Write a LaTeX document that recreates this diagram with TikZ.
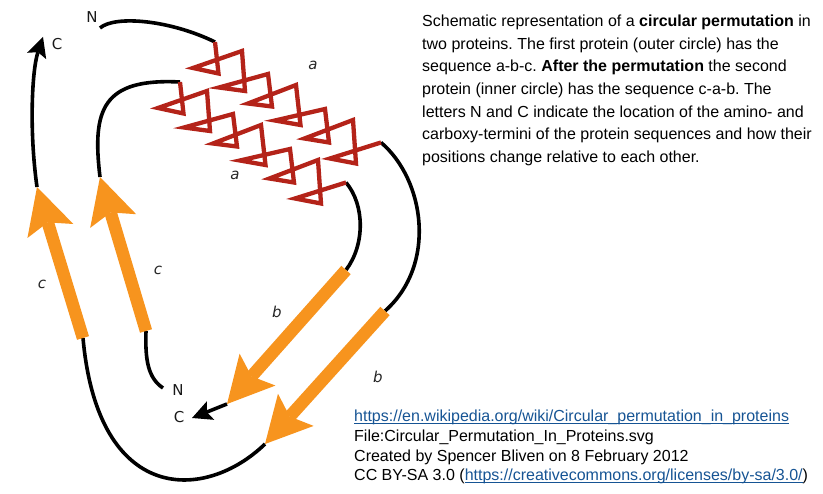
\documentclass[tikz,border=0pt]{standalone}
\usepackage{fontspec}
\setmainfont{Liberation Sans}
\newfontfamily\labelfont{DejaVu Sans}
\usetikzlibrary{arrows.meta}
\definecolor{helixred}{RGB}{180,35,25}
\definecolor{strandorange}{RGB}{247,148,30}
\definecolor{linkblue}{RGB}{22,84,148}
\newcommand\ulink[1]{{\color{linkblue}\setbox0\hbox{#1}\rlap{\rule[-2.3pt]{\wd0}{0.9pt}}\box0}}
\frenchspacing
\begin{document}
\begin{tikzpicture}[x=1pt,y=-1pt,
  backbone/.style={draw=black, line width=3.6pt},
  helixline/.style={draw=helixred, line width=4.3pt, line join=miter},
  strand/.style={draw=strandorange, line width=12.5pt,
    -{Stealth[length=46pt,width=48pt,inset=9pt,line width=0pt]}},
  endtip/.style={-{Stealth[length=20pt,width=20pt,inset=4pt,line width=0pt]}},
  seglabel/.style={anchor=base, inner sep=0pt, text=black!85,
    font={\fontsize{15}{18}\labelfont\itshape}},
  termlabel/.style={anchor=base, inner sep=0pt, text=black!90,
    font={\fontsize{15}{18}\labelfont}},
  paraline/.style={anchor=base west, inner sep=0pt,
    font={\fontsize{16}{19}\selectfont\frenchspacing}},
  credline/.style={anchor=base west, inner sep=0pt,
    font={\fontsize{16}{19}\selectfont\frenchspacing}}]
\useasboundingbox (0,0) rectangle (823,494);

% key points
\coordinate (oN) at (100,28);
\coordinate (oH1) at (215,42);
\coordinate (oH2) at (381,142.5);
\coordinate (ob1) at (385,311);
\coordinate (ob2) at (265,444);
\coordinate (oc1) at (83,338);
\coordinate (oc2) at (37,187);
\coordinate (oC) at (43,37);
\coordinate (iN) at (163,388);
\coordinate (ic1) at (146,331);
\coordinate (ic2) at (100,177);
\coordinate (iH1) at (180,82);
\coordinate (iH2) at (346,182.5);
\coordinate (ib1) at (346,270);
\coordinate (ib2) at (227,404);
\coordinate (iC) at (192,418);

% black backbone
\draw[backbone] (oN) .. controls (115,15) and (170,20) .. (oH1);
\draw[backbone] (oH2) .. controls (425,180) and (437,265) .. (ob1);
\draw[backbone] (ob2) .. controls (205,502) and (98,505) .. (oc1);
\draw[backbone, endtip] (oc2) .. controls (29,130) and (32,70) .. (oC);
\draw[backbone] (iN) .. controls (148,378) and (145,360) .. (ic1);
\draw[backbone] (ic2) .. controls (92,110) and (102,78) .. (iH1);
\draw[backbone] (iH2) .. controls (365,205) and (365,245) .. (ib1);
\draw[backbone, endtip] (ib2) -- (iC);

% helices a
\draw[helixline] (oH1) -- (218.5,73.5) -- (193,68) -- (242,51) -- (245,91) -- (219,87.5)
  -- (268,74) -- (272,106.5) -- (248,103.5) -- (296,85) -- (300.5,125) -- (275,120.5)
  -- (325,109) -- (329,142.5) -- (304.5,138.5) -- (353,120) -- (356,163.5) -- (330,158.5)
  -- (oH2);
\draw[helixline] (iH1) -- (183.5,113.5) -- (158,108) -- (207,91) -- (210,131) -- (184,127.5)
  -- (233,114) -- (237,146.5) -- (213,143.5) -- (261,125) -- (265.5,165) -- (240,160.5)
  -- (290,149) -- (294,182.5) -- (269.5,178.5) -- (318,160) -- (321,203.5) -- (295,198.5)
  -- (iH2);

% strands b and c
\draw[strand] (oc1) -- (oc2);
\draw[strand] (ic1) -- (ic2);
\draw[strand] (ib1) -- (ib2);
\draw[strand] (ob1) -- (ob2);

% labels
\node[seglabel] (la1) at (313,70) {a};
\node[seglabel] (la2) at (235,180) {a};
\node[seglabel] (lb1) at (277,318) {b};
\node[seglabel] (lb2) at (378,383) {b};
\node[seglabel] (lc1) at (42,289) {c};
\node[seglabel] (lc2) at (158,275) {c};
\node[termlabel] (lN1) at (92,23) {N};
\node[termlabel] (lC1) at (57,50) {C};
\node[termlabel] (lN2) at (178,396) {N};
\node[termlabel] (lC2) at (179,423) {C};

% caption
\node[paraline] (p1) at (422,26.5) {Schematic representation of a \textbf{circular permutation} in};
\node[paraline] (p2) at (422,49.2) {two proteins. The first protein (outer circle) has the};
\node[paraline] (p3) at (422,71.9) {sequence a-b-c. \textbf{After the permutation} the second};
\node[paraline] (p4) at (422,94.6) {protein (inner circle) has the sequence c-a-b. The};
\node[paraline] (p5) at (422,117.3) {letters N and C indicate the location of the amino- and};
\node[paraline] (p6) at (422,140) {carboxy-termini of the protein sequences and how their};
\node[paraline] (p7) at (422,162.7) {positions change relative to each other.};

% credits
\node[credline] (c1) at (354,421.7) {\ulink{https://en.wikipedia.org/wiki/Circular\_permutation\_in\_proteins}};
\node[credline] (c2) at (354,441.5) {File:Circular\_Permutation\_In\_Proteins.svg};
\node[credline] (c3) at (354,461.3) {Created by Spencer Bliven on 8 February 2012};
\node[credline] (c4) at (354,481) {CC BY-SA 3.0 (\ulink{https://creativecommons.org/licenses/by-sa/3.0/})};
\end{tikzpicture}
\end{document}
